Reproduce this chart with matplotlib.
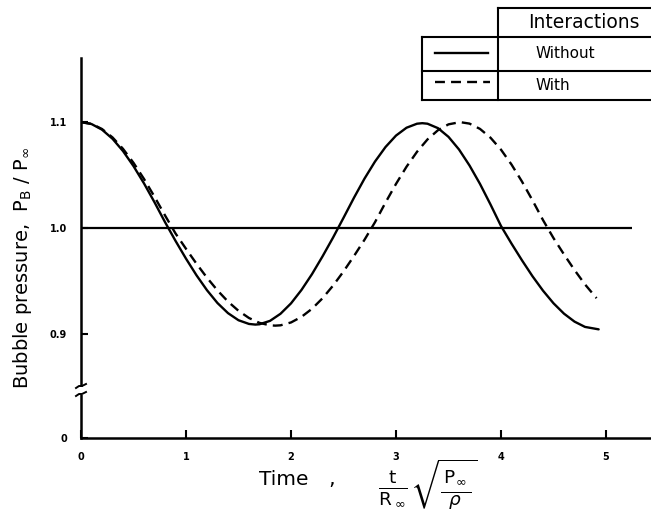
import matplotlib
matplotlib.use("Agg")
import matplotlib.pyplot as plt
from matplotlib.patches import Rectangle

# ---- data ----
x_without = [0.0, 0.1, 0.2, 0.3, 0.4, 0.5, 0.6, 0.7, 0.8, 0.9, 1.0, 1.1, 1.2, 1.3, 1.4,
             1.5, 1.6, 1.66, 1.7, 1.8, 1.9, 2.0, 2.1, 2.2, 2.3, 2.4, 2.5, 2.6, 2.7, 2.8,
             2.9, 3.0, 3.1, 3.2, 3.25, 3.3, 3.4, 3.5, 3.6, 3.7, 3.8, 3.9, 4.0, 4.1, 4.2,
             4.3, 4.4, 4.5, 4.6, 4.7, 4.8, 4.93]
y_without = [1.100, 1.0982, 1.0929, 1.0843, 1.0727, 1.0585, 1.0422, 1.0244, 1.0057, 0.9880,
             0.9712, 0.9555, 0.9414, 0.9293, 0.9198, 0.9131, 0.9096, 0.9090, 0.9093, 0.9125,
             0.9192, 0.9290, 0.9417, 0.9566, 0.9733, 0.9910, 1.0097, 1.0287, 1.0467, 1.0628,
             1.0765, 1.0873, 1.0947, 1.0985, 1.0990, 1.0985, 1.0943, 1.0861, 1.0742, 1.0591,
             1.0417, 1.0223, 1.0020, 0.9854, 0.9696, 0.9546, 0.9410, 0.9291, 0.9193, 0.9118,
             0.9068, 0.9045]

x_with = [0.0, 0.1, 0.2, 0.3, 0.4, 0.5, 0.6, 0.7, 0.8, 0.9, 1.0, 1.1, 1.2, 1.3, 1.4,
          1.5, 1.6, 1.7, 1.8, 1.85, 1.9, 2.0, 2.1, 2.2, 2.3, 2.4, 2.5, 2.6, 2.7, 2.8,
          2.9, 3.0, 3.1, 3.2, 3.3, 3.4, 3.5, 3.61, 3.7, 3.8, 3.9, 4.0, 4.1, 4.2, 4.3,
          4.4, 4.5, 4.6, 4.7, 4.8, 4.91]
y_with = [1.100, 1.0984, 1.0935, 1.0856, 1.0748, 1.0616, 1.0464, 1.0296, 1.0120, 0.9950,
          0.9805, 0.9664, 0.9532, 0.9412, 0.9307, 0.9220, 0.9152, 0.9106, 0.9083, 0.9080,
          0.9083, 0.9110, 0.9163, 0.9239, 0.9338, 0.9457, 0.9591, 0.9737, 0.9890, 1.0056,
          1.0241, 1.0417, 1.0579, 1.0720, 1.0837, 1.0924, 1.0979, 1.1000, 1.0986, 1.0936,
          1.0853, 1.0740, 1.0600, 1.0439, 1.0262, 1.0076, 0.9906, 0.9752, 0.9605, 0.9469,
          0.9339]

ref_level = 1.0
ref_xend = 5.25
x_ticks = [0, 1, 2, 3, 4, 5]
x_ticklabels = ["0", "1", "2", "3", "4", "5"]
y_ticks = [0.802, 0.9, 1.0, 1.1]
y_ticklabels = ["0", "0.9", "1.0", "1.1"]
legend_title = "Interactions"
series_labels = ["Without", "With"]

W, H = 651, 515
fig = plt.figure(figsize=(W / 100, H / 100), dpi=100)
ax = fig.add_axes([81 / W, 1 - 438 / H, 1 - 81 / W, 380 / H])
ax.set_xlim(0, (W - 81) / 105)
ax.set_ylim(0.802, 0.802 + 380 / 1060)

lw = 1.7
ax.plot(x_without, y_without, color="black", lw=lw, solid_capstyle="round")
ln_with, = ax.plot(x_with, y_with, color="black", lw=lw)
ln_with.set_dashes([4.2, 2.6])
ax.hlines(ref_level, 0, ref_xend, color="black", lw=1.6)

for s in ["top", "right"]:
    ax.spines[s].set_visible(False)
for s in ["left", "bottom"]:
    ax.spines[s].set_linewidth(1.8)

tick_font = dict(family=["DejaVu Sans"], size=7, weight="bold")
ax.set_xticks(x_ticks)
ax.set_xticklabels(x_ticklabels, **tick_font)
ax.set_yticks(y_ticks)
ax.set_yticklabels(y_ticklabels, **tick_font)
ax.tick_params(axis="x", direction="in", length=6, width=1.5, pad=10)
ax.tick_params(axis="y", direction="in", length=5, width=1.5, pad=10)

lab_font = ["DejaVu Sans"]
ax.set_ylabel(r"Bubble pressure,  P$_\mathrm{B}$ / P$_\infty$", family=lab_font,
              fontsize=14)
ax.yaxis.set_label_coords((34 - 81) / 570, (438 - 268) / 380)

fig.text(259 / W, 1 - 485 / H, "Time", family=lab_font, fontsize=14.5,
         va="baseline", ha="left")
fig.text(328 / W, 1 - 485 / H, ",", family=lab_font, fontsize=15,
         va="baseline", ha="left")
fig.text(393 / W, 1 - 489 / H, r"$\frac{\mathsf{t}}{\mathsf{R}\,_{\infty}}$",
         fontsize=19, va="center", ha="center")
fig.text(410 / W, 1 - 485 / H, r"$\sqrt{\frac{\,\mathsf{P}_{\infty}\,}{\rho}}$",
         fontsize=19, va="center", ha="left")

# ---- overlay in pixel coordinates for legend table and axis break ----
ov = fig.add_axes([0, 0, 1, 1])
ov.set_xlim(0, W)
ov.set_ylim(H, 0)
ov.axis("off")

k = dict(color="black", lw=1.5)
ov.plot([498, W], [8, 8], **k)
ov.plot([498, 498], [8, 100], **k)
ov.plot([422, W], [37, 37], **k)
ov.plot([422, W], [71, 71], **k)
ov.plot([422, W], [100, 100], **k)
ov.plot([422, 422], [37, 100], **k)
ov.plot([435, 488], [53, 53], color="black", lw=lw)
dl, = ov.plot([435, 490], [82, 82], color="black", lw=lw)
dl.set_dashes([4.2, 2.6])
ov.text(584, 23, legend_title, ha="center", va="center", family="DejaVu Sans", fontsize=13.5)
ov.text(536, 54, series_labels[0], ha="left", va="center", family="DejaVu Sans", fontsize=11)
ov.text(535, 86, series_labels[1], ha="left", va="center", family="DejaVu Sans", fontsize=11)

# axis break on y axis
ov.add_patch(Rectangle((77, 387), 8, 8, facecolor="white", edgecolor="none", zorder=3))
ov.plot([76, 79, 82, 86], [388, 386, 386, 384], color="black", lw=1.4, zorder=4)
ov.plot([76, 79, 82, 86], [396, 394, 394, 392], color="black", lw=1.4, zorder=4)

fig.savefig("out.png", dpi=100, facecolor="white")
